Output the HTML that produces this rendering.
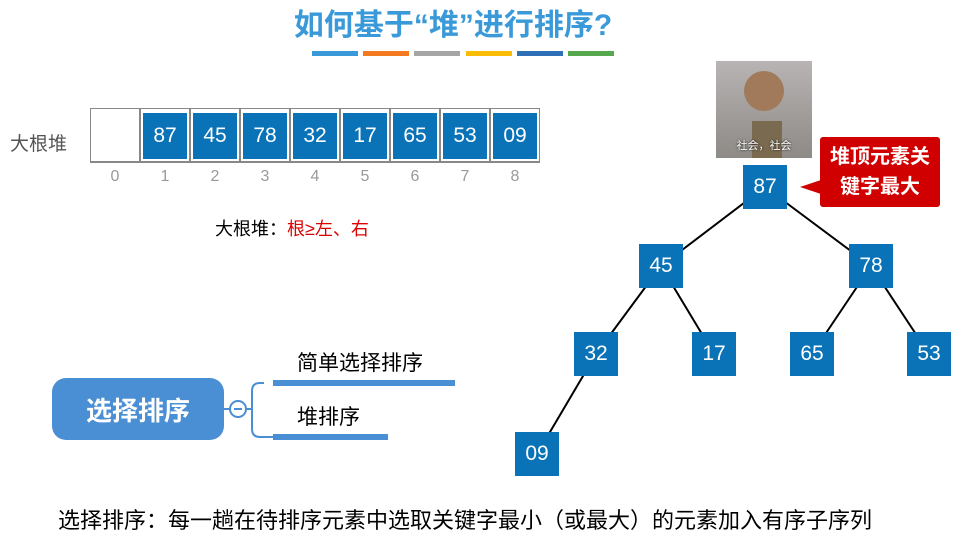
<!DOCTYPE html>
<html><head><meta charset="utf-8"><style>
body{margin:0;width:971px;height:540px;background:#fff;position:relative;overflow:hidden;font-family:"Liberation Sans","Noto Sans CJK SC",sans-serif}
.a{position:absolute}
.cell{position:absolute;top:108px;width:50px;height:55px;border:1px solid #888;box-sizing:border-box;border-bottom:2px solid #888}
.sq{position:absolute;background:#0a73b8;color:#fff;font-size:21px;display:flex;align-items:center;justify-content:center}
.idx{position:absolute;top:168px;width:50px;text-align:center;color:#999;font-size:16px}
</style></head><body>
<div class="a" style="left:0;width:906px;top:0px;text-align:center;font-size:30px;font-weight:bold;color:#3a9ad9">如何基于“堆”进行排序?</div>
<div>
<div class="a" style="left:312px;top:51px;width:46px;height:5px;background:#3a9ad9"></div>
<div class="a" style="left:363px;top:51px;width:46px;height:5px;background:#f47a20"></div>
<div class="a" style="left:414px;top:51px;width:46px;height:5px;background:#a5a5a5"></div>
<div class="a" style="left:466px;top:51px;width:46px;height:5px;background:#fbbc05"></div>
<div class="a" style="left:517px;top:51px;width:46px;height:5px;background:#2f6fb8"></div>
<div class="a" style="left:568px;top:51px;width:46px;height:5px;background:#55a84c"></div>
</div>
<div class="a" style="left:10px;top:129px;font-size:19px;color:#555">大根堆</div>
<div id="arr"></div>
<div class="a" style="left:215px;top:215px;font-size:18px">大根堆：<span style="color:#d00">根≥左、右</span></div>
<svg class="a" style="left:0;top:0" width="971" height="540" id="lines"></svg>
<div id="tree"></div>
<div class="a" style="left:716px;top:61px;width:96px;height:97px;background:linear-gradient(#b8b4b4,#8e8a86)">
<div class="a" style="left:28px;top:10px;width:40px;height:40px;border-radius:50%;background:#a07a5a"></div>
<div class="a" style="left:36px;top:60px;width:30px;height:37px;background:#7a6a50"></div>
<div class="a" style="left:0;top:76px;width:96px;text-align:center;color:#fff;font-size:11px;text-shadow:0 0 2px #000">社会，社会</div></div>
<div class="a" style="left:820px;top:137px;width:120px;height:70px;background:#d00000;border-radius:3px;color:#fff;font-size:20px;font-weight:bold;text-align:center;line-height:30px;padding-top:5px;box-sizing:border-box">堆顶元素关<br>键字最大</div>
<div class="a" style="left:800px;top:180px;width:0;height:0;border-top:7px solid transparent;border-bottom:7px solid transparent;border-right:21px solid #d00000"></div>
<div class="a" style="left:52px;top:378px;width:172px;height:62px;background:#4a8fd4;border-radius:14px;color:#fff;font-size:26px;font-weight:bold;display:flex;align-items:center;justify-content:center">选择排序</div>
<svg class="a" style="left:0;top:0" width="971" height="540">
<line x1="224" y1="409" x2="230" y2="409" stroke="#4a8fd4" stroke-width="2"/>
<circle cx="238" cy="409" r="8" fill="#fff" stroke="#4a8fd4" stroke-width="2"/>
<line x1="234" y1="409" x2="242" y2="409" stroke="#4a8fd4" stroke-width="2"/>
<path d="M246 409 H252 M264 383 H260 Q252 383 252 391 V429 Q252 437 260 437 H275" fill="none" stroke="#4a8fd4" stroke-width="2"/>
<rect x="273" y="380" width="182" height="6" fill="#4a8fd4"/>
<rect x="273" y="434" width="115" height="6" fill="#4a8fd4"/>
</svg>
<div class="a" style="left:297px;top:347px;font-size:21px">简单选择排序</div>
<div class="a" style="left:297px;top:401px;font-size:21px">堆排序</div>
<div class="a" style="left:58px;top:503px;font-size:22px;white-space:nowrap">选择排序：每一趟在待排序元素中选取关键字最小（或最大）的元素加入有序子序列</div>
<script>
const values=["87","45","78","32","17","65","53","09"];
const indices=["0","1","2","3","4","5","6","7","8"];
const arr=document.getElementById('arr');
indices.forEach((t,i)=>{
 const c=document.createElement('div');c.className='cell';c.style.left=(90+i*50)+'px';
 
 
 arr.appendChild(c);
 const l=document.createElement('div');l.className='idx';l.style.left=(90+i*50)+'px';l.textContent=t;
 
 
 arr.appendChild(l);
 if(i>0){const s=document.createElement('div');s.className='sq';s.style.left=(90+i*50+3)+'px';s.style.top='113px';s.style.width='44px';s.style.height='46px';s.textContent=values[i-1];
 
 
 arr.appendChild(s);}
});
const pos=[[765,187],[661,266],[871,266],[596,354],[714,354],[812,354],[929,354],[537,454]];
const svg=document.getElementById('lines');
for(let i=1;i<values.length;i++){const p=pos[Math.floor((i-1)/2)],q=pos[i];
 const ln=document.createElementNS('http://www.w3.org/2000/svg','line');
 ln.setAttribute('x1',p[0]);ln.setAttribute('y1',p[1]);ln.setAttribute('x2',q[0]);ln.setAttribute('y2',q[1]);ln.setAttribute('stroke','#000');ln.setAttribute('stroke-width','2');
 
 
 svg.appendChild(ln);}
const tree=document.getElementById('tree');
values.forEach((v,i)=>{const s=document.createElement('div');s.className='sq';
 s.style.left=(pos[i][0]-22)+'px';s.style.top=(pos[i][1]-22)+'px';s.style.width='44px';s.style.height='44px';s.textContent=v;
 
 
 tree.appendChild(s);});
</script>
</body></html>
